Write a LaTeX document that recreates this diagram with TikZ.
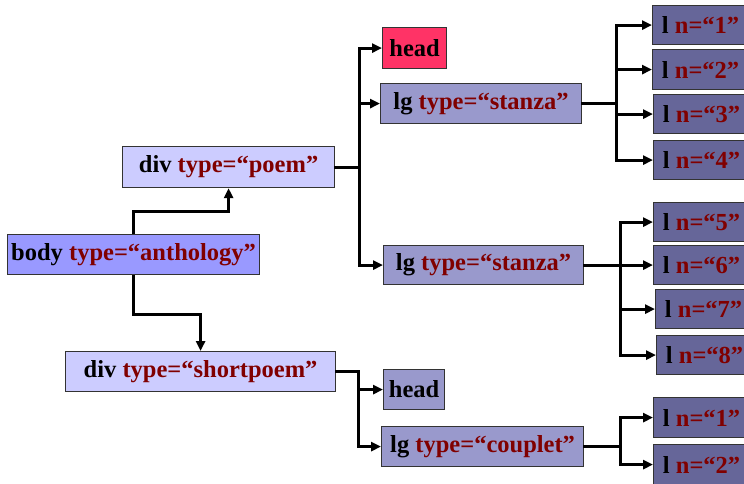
\documentclass[tikz,border=0pt]{standalone}
\usepackage{fontspec}
\setmainfont{Liberation Serif}
\usetikzlibrary{arrows.meta}
\definecolor{bodyfill}{HTML}{9999FF}
\definecolor{divfill}{HTML}{CCCCFF}
\definecolor{headfill}{HTML}{FF3366}
\definecolor{lgfill}{HTML}{9999CC}
\definecolor{lfill}{HTML}{666699}
\definecolor{attr}{HTML}{800000}
\definecolor{edge}{HTML}{333333}
\tikzset{
  box/.style={draw=edge, line width=1.2pt, anchor=north west, inner sep=0pt,
    font=\fontsize{24.5}{27}\selectfont\bfseries, text=black},
  conn/.style={line width=3pt, line cap=rect},
  arr/.style={line width=3pt, -{Triangle[length=10pt,width=9pt]}},
}
\newcommand{\at}[1]{\textcolor{attr}{#1}}
\begin{document}
\begin{tikzpicture}[x=1pt,y=-1pt]
\useasboundingbox (0,0) rectangle (744,483);
% nodes
\node[box, fill=bodyfill, minimum width=252, minimum height=40] (body) at (7,234) {body \at{type=“anthology”}};
\node[box, fill=divfill, minimum width=212, minimum height=41] (poem) at (122,146) {div \at{type=“poem”}};
\node[box, fill=divfill, minimum width=270, minimum height=40] (short) at (65,351) {div \at{type=“shortpoem”}};
\node[box, fill=headfill, minimum width=64, minimum height=41] (head1) at (382,27) {head};
\node[box, fill=lgfill, minimum width=201, minimum height=40] (st1) at (380,83) {lg \at{type=“stanza”}};
\node[box, fill=lgfill, minimum width=200, minimum height=39] (st2) at (383,245) {lg \at{type=“stanza”}};
\node[box, fill=lgfill, minimum width=61, minimum height=40] (head2) at (383,369) {head};
\node[box, fill=lgfill, minimum width=202, minimum height=40] (cp) at (381,426) {lg \at{type=“couplet”}};
\node[box, fill=lfill, minimum width=96, minimum height=39] (l1) at (652,5) {l \at{n=“1”}};
\node[box, fill=lfill, minimum width=96, minimum height=40] (l2) at (652,49) {l \at{n=“2”}};
\node[box, fill=lfill, minimum width=96, minimum height=39] (l3) at (653,94) {l \at{n=“3”}};
\node[box, fill=lfill, minimum width=96, minimum height=39] (l4) at (653,140) {l \at{n=“4”}};
\node[box, fill=lfill, minimum width=96, minimum height=39] (l5) at (653,202) {l \at{n=“5”}};
\node[box, fill=lfill, minimum width=96, minimum height=39] (l6) at (653,245) {l \at{n=“6”}};
\node[box, fill=lfill, minimum width=96, minimum height=39] (l7) at (655,289) {l \at{n=“7”}};
\node[box, fill=lfill, minimum width=96, minimum height=39] (l8) at (656,335) {l \at{n=“8”}};
\node[box, fill=lfill, minimum width=96, minimum height=40] (m1) at (653,397) {l \at{n=“1”}};
\node[box, fill=lfill, minimum width=96, minimum height=40] (m2) at (653,444) {l \at{n=“2”}};
% connectors
\draw[arr] (body.north) -- ++(0,-23) -| (poem.south);
\draw[arr] (body.south) -- ++(0,39) -| (short.north);
\draw[conn] (poem.east) -- ++(24,0) coordinate (b1);
\foreach \t in {head1,st1,st2} \draw[arr] (b1) |- (\t.west);
\draw[conn] (st1.east) -- ++(34,0) coordinate (b2);
\foreach \t in {l1,l2,l3,l4} \draw[arr] (b2) |- (\t.west);
\draw[conn] (st2.east) -- ++(36,0) coordinate (b3);
\foreach \t in {l5,l6,l7,l8} \draw[arr] (b3) |- (\t.west);
\draw[conn] (short.east) -- ++(22,0) coordinate (b4);
\foreach \t in {head2,cp} \draw[arr] (b4) |- (\t.west);
\draw[conn] (cp.east) -- ++(36,0) coordinate (b5);
\foreach \t in {m1,m2} \draw[arr] (b5) |- (\t.west);
\end{tikzpicture}
\end{document}
